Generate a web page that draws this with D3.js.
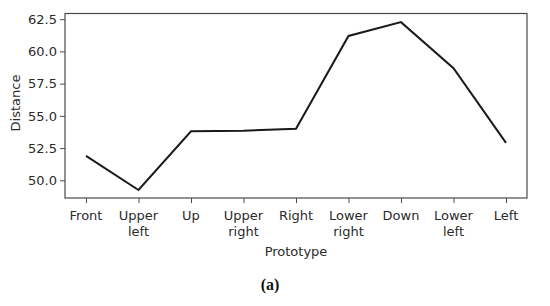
<!DOCTYPE html>
<html>
<head>
<meta charset="utf-8">
<script src="https://cdn.jsdelivr.net/npm/d3@7"></script>
<style>
  body { margin: 0; background: #fff; }
  text { font-family: "DejaVu Sans", sans-serif; fill: #2b2b2b; }
</style>
</head>
<body>
<div id="chart"></div>
<script>
var categories = [["Front"], ["Upper", "left"], ["Up"], ["Upper", "right"], ["Right"],
                  ["Lower", "right"], ["Down"], ["Lower", "left"], ["Left"]]
var distance = [51.9, 49.25, 53.8, 53.85, 54.0, 61.2, 62.27, 58.7, 52.9]
var yTicks = [50.0, 52.5, 55.0, 57.5, 60.0, 62.5]

var width = 550, height = 306
var margin = { top: 13.5, right: 23, bottom: 108, left: 65 }
var plotW = width - margin.left - margin.right
var plotH = height - margin.top - margin.bottom

var svg = d3.select("#chart").append("svg")
  .attr("width", width)
  .attr("height", height)

var g = svg.append("g")
  .attr("transform", "translate(" + margin.left + "," + margin.top + ")")

var x = d3.scaleLinear().domain([-0.4, categories.length - 1 + 0.4]).range([0, plotW])
var y = d3.scaleLinear().domain([48.63, 62.94]).range([plotH, 0])

// frame
g.append("rect")
  .attr("x", 0).attr("y", 0)
  .attr("width", plotW).attr("height", plotH)
  .attr("fill", "none")
  .attr("stroke", "#4a4a4a")
  .attr("stroke-width", 1.2)

// y axis
var yAxis = g.append("g")
  .call(d3.axisLeft(y).tickValues(yTicks).tickFormat(d3.format(".1f")).tickSize(5).tickPadding(3))
yAxis.select(".domain").remove()
yAxis.selectAll(".tick line").attr("stroke", "#4a4a4a")
yAxis.selectAll("text").style("font-size", "13px").attr("fill", "#2b2b2b")

// x axis
var xAxis = g.append("g")
  .attr("transform", "translate(0," + plotH + ")")
  .call(d3.axisBottom(x).tickValues(d3.range(categories.length)).tickFormat("").tickSize(5))
xAxis.select(".domain").remove()
xAxis.selectAll(".tick line").attr("stroke", "#4a4a4a")

categories.forEach(function(lines, i) {
  var t = g.append("text")
    .attr("x", x(i))
    .attr("y", plotH + 22)
    .attr("text-anchor", "middle")
    .style("font-size", "13px")
  lines.forEach(function(l, j) {
    t.append("tspan").attr("x", x(i)).attr("dy", j == 0 ? 0 : 15.7).text(l)
  })
})

// axis titles
g.append("text")
  .attr("x", x(4))
  .attr("y", plotH + 57.5)
  .attr("text-anchor", "middle")
  .style("font-size", "13px")
  .text("Prototype")

g.append("text")
  .attr("transform", "translate(" + (-45) + "," + (y(56)) + ") rotate(-90)")
  .attr("text-anchor", "middle")
  .style("font-size", "13px")
  .text("Distance")

// line
var line = d3.line()
  .x(function(d, i) { return x(i) })
  .y(function(d) { return y(d) })

g.append("path")
  .datum(distance)
  .attr("d", line)
  .attr("fill", "none")
  .attr("stroke", "#1a1a1a")
  .attr("stroke-width", 2)

// caption
svg.append("text")
  .attr("x", 270)
  .attr("y", 290)
  .attr("text-anchor", "middle")
  .style("font-family", "'Liberation Serif', serif")
  .style("font-weight", "bold")
  .style("font-size", "16px")
  .style("fill", "#111")
  .text("(a)")
</script>
</body>
</html>
